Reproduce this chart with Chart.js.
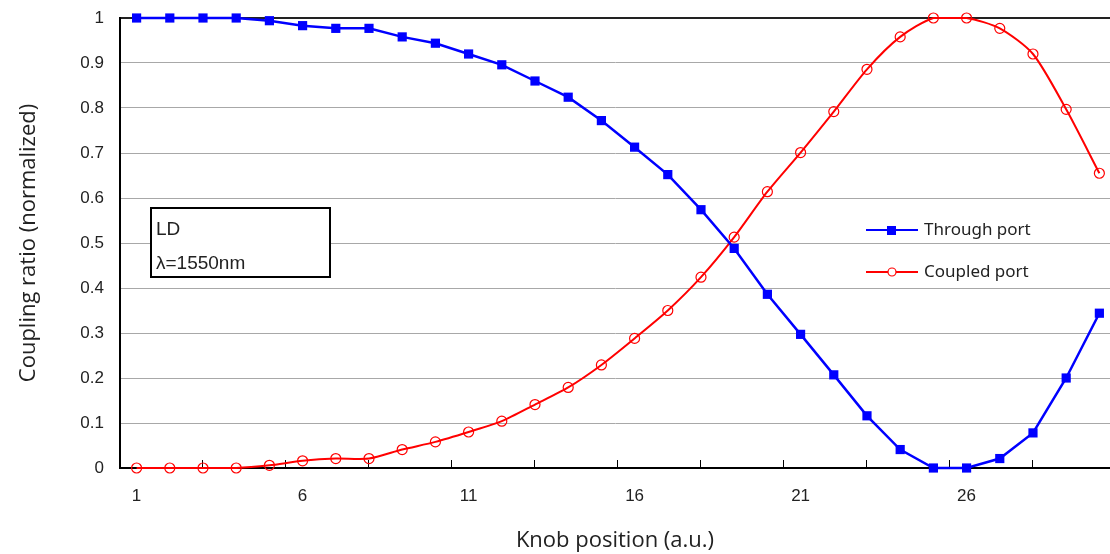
<!DOCTYPE html>
<html>
<head>
<meta charset="utf-8">
<script src="https://cdn.jsdelivr.net/npm/chart.js@4"></script>
<style>
  body { margin: 0; background: #fff; }
  #wrap { width: 1110px; height: 554px; }
</style>
</head>
<body>
<div id="wrap"><canvas id="c1"></canvas></div>
<script>
// knob positions 1..30
const knob = [1,2,3,4,5,6,7,8,9,10,11,12,13,14,15,16,17,18,19,20,21,22,23,24,25,26,27,28,29,30];
const throughPort = [1.0, 1.0, 1.0, 1.0, 0.994, 0.983, 0.977, 0.977, 0.958, 0.944,
                     0.920, 0.896, 0.860, 0.824, 0.772, 0.713, 0.652, 0.574, 0.488, 0.386,
                     0.297, 0.207, 0.116, 0.041, 0.0, 0.0, 0.021, 0.078, 0.200, 0.344];
const coupledPort = [0.0, 0.0, 0.0, 0.0, 0.006, 0.016, 0.021, 0.021, 0.041, 0.058,
                     0.080, 0.104, 0.141, 0.179, 0.229, 0.288, 0.350, 0.424, 0.513, 0.614,
                     0.701, 0.792, 0.886, 0.958, 1.0, 1.0, 0.977, 0.920, 0.797, 0.655];
const xLabels = [1, 6, 11, 16, 21, 26];
const xTickMarks = [3, 5.5, 8, 10.5, 13, 15.5, 18, 20.5, 23, 25.5, 28];
const noteLines = ['LD', 'λ=1550nm'];

const blue = '#0000ff';
const red = '#ff0000';

// legend + note box drawn on top of the plot
const overlay = {
    id: 'overlay',
    afterDraw(chart) {
        const ctx = chart.ctx;
        ctx.save();
        // note box
        ctx.strokeStyle = '#000';
        ctx.lineWidth = 2;
        ctx.fillStyle = '#fff';
        ctx.fillRect(151, 208, 179, 69);
        ctx.strokeRect(151, 208, 179, 69);
        ctx.fillStyle = '#222';
        ctx.font = '19px "Liberation Sans", Arial, sans-serif';
        ctx.textBaseline = 'middle';
        ctx.fillText(noteLines[0], 156, 230);
        ctx.fillText(noteLines[1], 156, 264);

        // legend
        const ds = chart.data.datasets;
        ds.forEach((d, i) => {
            const y = 230 + i * 42;
            ctx.strokeStyle = d.borderColor;
            ctx.lineWidth = 2;
            ctx.beginPath();
            ctx.moveTo(866, y);
            ctx.lineTo(918, y);
            ctx.stroke();
            if (d.pointStyle === 'rect') {
                ctx.fillStyle = d.borderColor;
                ctx.fillRect(887, y - 4, 9, 9);
            } else {
                ctx.lineWidth = 1.2;
                ctx.beginPath();
                ctx.arc(892, y, 4, 0, Math.PI * 2);
                ctx.fillStyle = '#fff';
                ctx.fill();
                ctx.stroke();
            }
            ctx.fillStyle = '#222';
            ctx.font = '17px "Noto Sans", sans-serif';
            ctx.fillText(d.label, 924, y);
        });
        ctx.restore();
    }
};

const ctx = document.getElementById('c1').getContext('2d');
const chart = new Chart(ctx, {
    type: 'line',
    data: {
        datasets: [{
            label: 'Through port',
            data: knob.map((k, i) => ({ x: k, y: throughPort[i] })),
            borderColor: blue,
            backgroundColor: blue,
            borderWidth: 2.5,
            pointStyle: 'rect',
            pointRadius: 6.5,
            pointBorderWidth: 0,
            tension: 0,
            clip: false
        }, {
            label: 'Coupled port',
            data: knob.map((k, i) => ({ x: k, y: coupledPort[i] })),
            borderColor: red,
            backgroundColor: 'rgba(0,0,0,0)',
            borderWidth: 2,
            pointStyle: 'circle',
            pointRadius: 5,
            pointBorderWidth: 1.2,
            tension: 0.25,
            clip: false
        }]
    },
    options: {
        responsive: true,
        maintainAspectRatio: false,
        animation: false,
        layout: { autoPadding: false, padding: { top: 18, right: 0, left: 0, bottom: 0 } },
        plugins: {
            legend: { display: false },
            tooltip: { enabled: false }
        },
        scales: {
            x: {
                type: 'linear',
                min: 0.5,
                max: 30.32,
                afterBuildTicks(scale) {
                    const t = xLabels.map(v => ({ value: v }))
                        .concat(xTickMarks.map(v => ({ value: v })));
                    t.sort((a, b) => a.value - b.value);
                    scale.ticks = t;
                },
                afterFit(scale) {
                    scale.height = 86;
                    scale.paddingLeft = 0;
                    scale.paddingRight = 0;
                },
                ticks: {
                    autoSkip: false,
                    maxRotation: 0,
                    padding: 26,
                    color: '#222',
                    font: { family: '"Liberation Sans", Arial, sans-serif', size: 17 },
                    callback: v => xLabels.includes(v) ? String(v) : ''
                },
                grid: {
                    drawOnChartArea: false,
                    drawTicks: true,
                    tickLength: -8,
                    tickWidth: 1,
                    tickColor: c => (c.tick && xLabels.includes(c.tick.value)) ? 'rgba(0,0,0,0)' : '#000'
                },
                border: { display: true, color: '#000', width: 2 },
                title: {
                    display: true,
                    text: 'Knob position (a.u.)',
                    color: '#222',
                    font: { family: '"Open Sans", sans-serif', size: 22 },
                    padding: { top: 0, bottom: 0 }
                }
            },
            y: {
                min: 0,
                max: 1,
                afterFit(scale) {
                    scale.width = 120;
                    scale.paddingTop = 0;
                    scale.paddingBottom = 0;
                },
                ticks: {
                    stepSize: 0.1,
                    padding: 16,
                    color: '#222',
                    font: { family: '"Liberation Sans", Arial, sans-serif', size: 17 },
                    callback: v => String(Math.round(v * 10) / 10)
                },
                grid: {
                    drawTicks: false,
                    color: c => (c.tick && c.tick.value === 1) ? '#222' : '#a8a8a8',
                    lineWidth: c => (c.tick && c.tick.value === 1) ? 2 : 1
                },
                border: { display: true, color: '#000', width: 2 },
                title: {
                    display: true,
                    text: 'Coupling ratio (normalized)',
                    color: '#222',
                    font: { family: '"Open Sans", sans-serif', size: 22 },
                    padding: { top: 16, bottom: 0 }
                }
            }
        }
    },
    plugins: [overlay]
});
</script>
</body>
</html>
